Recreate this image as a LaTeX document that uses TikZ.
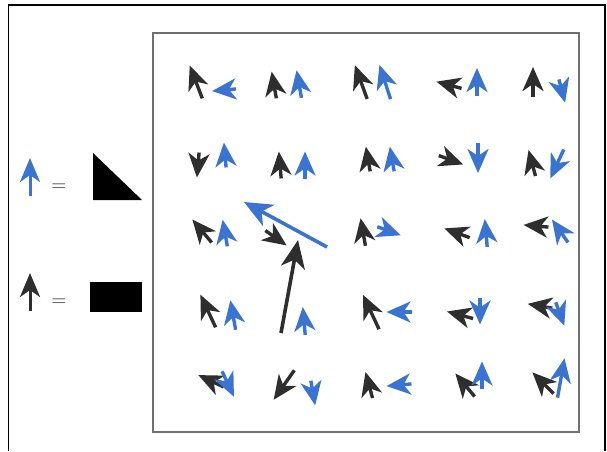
\documentclass[tikz,border=0pt]{standalone}
\usepackage{tikz}
\usetikzlibrary{arrows.meta}

\definecolor{ptrblack}{HTML}{2E2E2E}
\definecolor{ptrblue}{HTML}{3B74D0}
\definecolor{boxgray}{HTML}{707070}

\begin{document}
\begin{tikzpicture}[x=1pt,y=-1pt,
  ptr/.style={-{Stealth[length=24pt,width=21pt,inset=7pt]},line width=3.4pt},
  keyptr/.style={-{Stealth[length=24pt,width=20pt,inset=7pt]},line width=3pt},
  bigptr/.style={-{Stealth[length=28pt,width=24pt,inset=8pt]},line width=3.6pt},
  eqsign/.style={text=black!65,font=\bfseries\LARGE,inner sep=0pt}]
\useasboundingbox (0,0) rectangle (607,451);
% frame and field
\draw[line width=1.2pt] (8.5,451) -- (8.5,5) -- (605,5) -- (605,451);
\draw[boxgray,line width=2.4pt] (153,33) rectangle (579,432);
% legend
\draw[keyptr,ptrblue] (30,196) -- (30,158);
\node[eqsign] (eqblue) at (59,187) {=};
\fill (93,153) -- (93,200) -- (142,200) -- cycle;
\draw[keyptr,ptrblack] (30,311) -- (30,273);
\node[eqsign] (eqblack) at (59,302) {=};
\fill (90,282) rectangle (142,312);
% small pointers, x/y/angle/length
\foreach \x/\y/\a/\l in {196/82/111/35, 274/85/100/27, 361/82/110/36, 449/85/165/26, 533/82/90/30,
  198/165/265/25, 280/165/95/27, 368/159/100/25, 451/160/340/26, 532/163/105/27,
  202/231/130/30, 276/238/325/26, 363/232/100/28, 457/233/160/27, 536/226/175/25,
  208/311/115/36, 371/312/115/38, 460/315/165/27, 540/306/170/25,
  211/381/155/28, 284/385/235/36, 369/385/105/27, 465/385/130/30, 543/383/135/30}
  \draw[ptr,ptrblack,shift={(\x,\y)},rotate=\a] (-\l/2,0) -- (\l/2,0);
\foreach \x/\y/\a/\l in {224/90/185/24, 299/84/100/28, 385/82/108/36, 477/82/90/28, 562/91/285/24,
  225/155/95/25, 305/165/90/27, 392/159/100/25, 478/158/270/30, 557/164/245/32,
  225/233/100/27, 389/231/340/25, 486/233/95/28, 560/231/125/28,
  233/315/100/30, 304/321/95/28, 399/312/180/25, 480/311/270/27, 560/314/290/25,
  228/384/295/28, 313/393/280/25, 399/385/185/25, 482/375/90/27, 561/378/80/40}
  \draw[ptr,ptrblue,shift={(\x,\y)},rotate=\a] (-\l/2,0) -- (\l/2,0);
% long pointers
\coordinate (bluetail) at (327,247);
\coordinate (bluetip) at (244,202);
\coordinate (blacktail) at (281,333);
\coordinate (blacktip) at (298,240);
\draw[bigptr,ptrblue] (bluetail) -- (bluetip);
\draw[bigptr,ptrblack] (blacktail) -- (blacktip);
\end{tikzpicture}
\end{document}
